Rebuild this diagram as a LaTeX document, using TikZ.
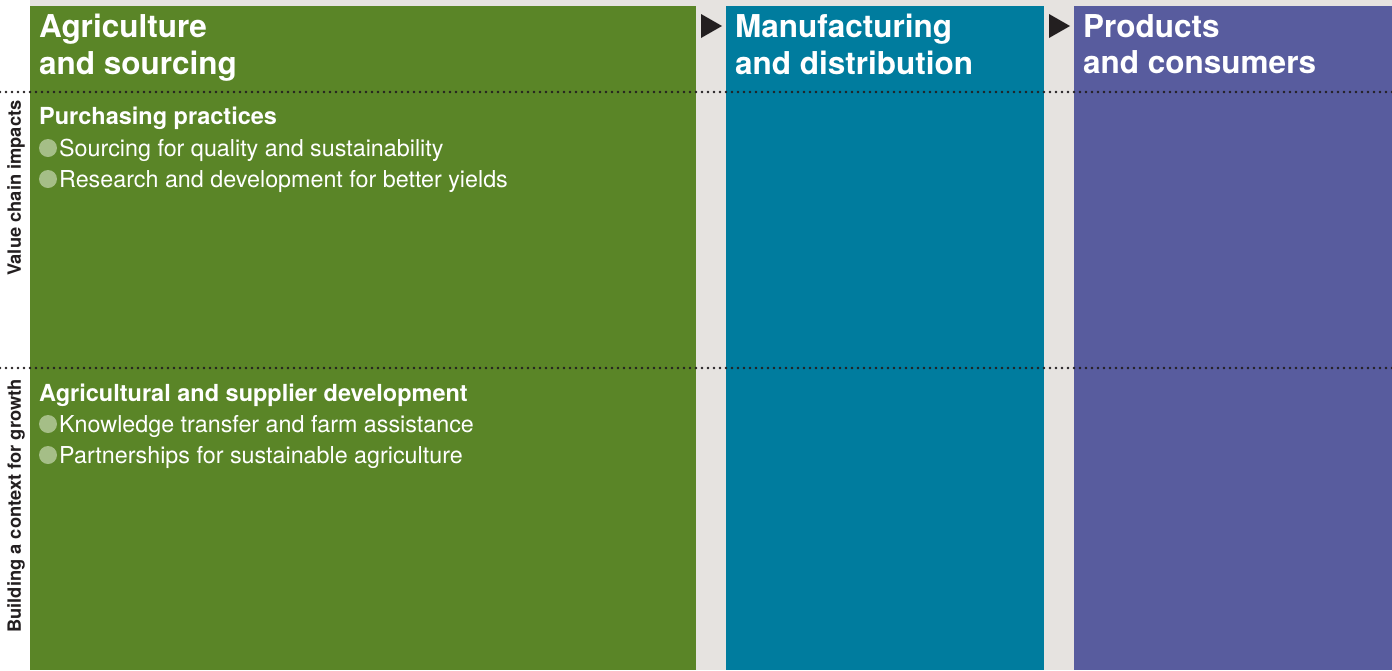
\documentclass[tikz,border=0pt]{standalone}
\usepackage{fontspec}
\setmainfont{TeX Gyre Heros}
\usetikzlibrary{positioning}

\definecolor{agrigreen}{RGB}{90,133,39}
\definecolor{manuteal}{RGB}{0,124,158}
\definecolor{prodpurple}{RGB}{88,92,158}
\definecolor{backgrey}{RGB}{230,227,224}
\definecolor{dotgreen}{RGB}{165,190,135}
\definecolor{inkblack}{RGB}{35,31,32}

\begin{document}
\begin{tikzpicture}[x=1pt, y=-1pt,
    panel/.style = {rectangle, inner sep=0pt, anchor=north west,
minimum height=664pt},
    head/.style = {anchor=north west, inner sep=0pt, align=left, text=white,
font=\fontsize{31.5}{36.5}\selectfont\bfseries},
    subhead/.style = {anchor=base west, inner sep=0pt, text=white,
font=\fontsize{23.5}{28}\selectfont\bfseries},
    item/.style = {anchor=base west, inner sep=0pt, text=white,
font=\fontsize{23.3}{28}\selectfont},
    bullet/.style = {circle, fill=dotgreen, inner sep=0pt, minimum size=18pt},
    side/.style = {rotate=90, inner sep=0pt, text=inkblack,
font=\fontsize{18.3}{22}\selectfont\bfseries},
    divider/.style = {inkblack, line width=2.8pt, line cap=round,
dash pattern=on 0pt off 6pt},
    step arrow/.style = {fill=inkblack}
]
  \useasboundingbox (0,0) rectangle (1392,670);
  \fill[backgrey] (30,0) rectangle (1392,670);

  % the three stages
  \node (agri) [panel, fill=agrigreen, minimum width=666pt] at (30,6) {};
  \node (manu) [panel, fill=manuteal, minimum width=318pt] at (726,6) {};
  \node (prod) [panel, fill=prodpurple, minimum width=318pt] at (1074,6) {};

  \fill[step arrow] (701,14) -- (722,26) -- (701,38) -- cycle;
  \fill[step arrow] (1049,14) -- (1070,26) -- (1049,38) -- cycle;

  \node (agrihead) [head] at (39,14) {Agriculture\\and sourcing};
  \node (manuhead) [head] at (735,14) {Manufacturing\\and distribution};
  \node (prodhead) [head] at (1083,14) {Products\\and consumers};

  % rows
  \draw[divider] (0,92) -- (1392,92);
  \draw[divider] (0,368) -- (1392,368);

  \node (impacts) [side] at (16,188) {Value chain impacts};
  \node (growth)  [side] at (16,506) {Building a context for growth};

  \node (purch) [subhead] at (39,124) {Purchasing practices};
  \node (dot1) [bullet] at (48,148) {};
  \node (src)  [item] at (59,156) {Sourcing for quality and sustainability};
  \node (dot2) [bullet] at (48,179) {};
  \node (rnd)  [item] at (59,187) {Research and development for better yields};

  \node (supdev) [subhead] at (39,401) {Agricultural and supplier development};
  \node (dot3) [bullet] at (48,424) {};
  \node (know) [item] at (59,432) {Knowledge transfer and farm assistance};
  \node (dot4) [bullet] at (48,455) {};
  \node (part) [item] at (59,463) {Partnerships for sustainable agriculture};

\end{tikzpicture}
\end{document}
